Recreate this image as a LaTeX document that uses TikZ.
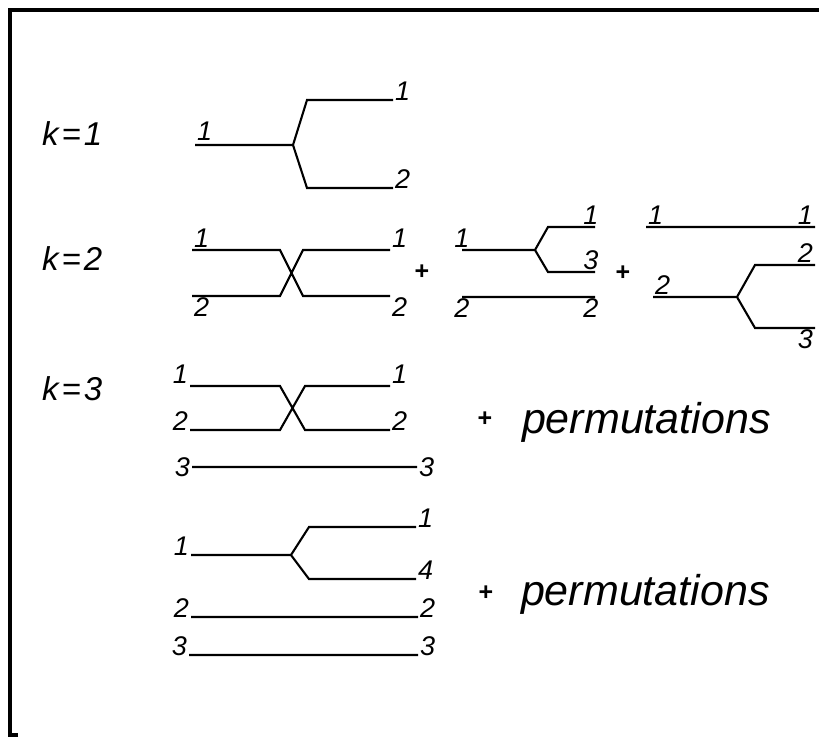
\documentclass[tikz,border=0pt]{standalone}
\usepackage{fontspec}
\setmainfont{Liberation Sans}
\usepackage{tikz}

\begin{document}
\begin{tikzpicture}[x=1pt, y=-1pt, line width=2.1pt,
  every node/.style={inner sep=1pt, font=\fontsize{27}{27}\selectfont\itshape},
  ktext/.style={font=\fontsize{33}{33}\selectfont\itshape},
  permtext/.style={font=\fontsize{43}{43}\selectfont\itshape},
  plus/.style={font=\fontsize{25}{25}\selectfont\bfseries}]
\useasboundingbox (0,0) rectangle (819,737);
\draw[line width=3.5pt] (18,735) -- (10,735) -- (10,10) -- (819,10);
% row labels
\node[ktext, anchor=base west] (K1) at (40,145) {k\kern3pt=\kern3pt1};
\node[ktext, anchor=base west] (K2) at (40,270) {k\kern3pt=\kern3pt2};
\node[ktext, anchor=base west] (K3) at (40,400) {k\kern3pt=\kern3pt3};
% k=1
\coordinate (A0) at (195,145); \coordinate (A1) at (293,145);
\coordinate (A2) at (307,100); \coordinate (A3) at (393,100);
\coordinate (A4) at (307,188); \coordinate (A5) at (393,188);
\draw (A0) -- (A1) -- (A2) -- (A3) (A1) -- (A4) -- (A5);
\node[anchor=south west] (a0) at (195,143) {1};
\node[anchor=base west] (a3) at (A3) {1};
\node[anchor=base west] (a5) at (A5) {2};
% k=2, exchange
\coordinate (B0) at (192,250); \coordinate (B1) at (280,250); \coordinate (B2) at (303,250); \coordinate (B3) at (390,250);
\coordinate (B4) at (192,296); \coordinate (B5) at (280,296); \coordinate (B6) at (303,296); \coordinate (B7) at (390,296);
\draw (B0) -- (B1) -- (B6) -- (B7) (B4) -- (B5) -- (B2) -- (B3);
\node[anchor=south west] (b0) at (B0) {1};
\node[anchor=north west] (b4) at (B4) {2};
\node[anchor=south west] (b3) at (B3) {1};
\node[anchor=north west] (b7) at (B7) {2};
\node[plus] (p1) at (422,272) {+};
% k=2, first line splits
\coordinate (C0) at (462,250); \coordinate (C1) at (535,250);
\coordinate (C2) at (548,227); \coordinate (C3) at (595,227);
\coordinate (C4) at (548,272); \coordinate (C5) at (595,272);
\coordinate (C6) at (462,297); \coordinate (C7) at (595,297);
\draw (C0) -- (C1) -- (C2) -- (C3) (C1) -- (C4) -- (C5) (C6) -- (C7);
\node[anchor=south] (c0) at (C0) {1};
\node[anchor=south] (c3) at (591,227) {1};
\node[anchor=south] (c5) at (591,272) {3};
\node[anchor=north] (c6) at (C6) {2};
\node[anchor=north] (c7) at (591,297) {2};
\node[plus] (p2) at (623,273) {+};
% k=2, second line splits
\coordinate (D0) at (646,227); \coordinate (D1) at (815,227);
\coordinate (D2) at (653,297); \coordinate (D3) at (737,297);
\coordinate (D4) at (755,265); \coordinate (D5) at (815,265);
\coordinate (D6) at (755,328); \coordinate (D7) at (815,328);
\draw (D0) -- (D1) (D2) -- (D3) -- (D4) -- (D5) (D3) -- (D6) -- (D7);
\node[anchor=south west] (d0) at (D0) {1};
\node[anchor=south east] (d1) at (D1) {1};
\node[anchor=south west] (d2) at (D2) {2};
\node[anchor=south east] (d5) at (D5) {2};
\node[anchor=north east] (d7) at (D7) {3};
% k=3, exchange
\coordinate (E0) at (190,386); \coordinate (E1) at (280,386); \coordinate (E2) at (305,386); \coordinate (E3) at (390,386);
\coordinate (E4) at (190,430); \coordinate (E5) at (280,430); \coordinate (E6) at (305,430); \coordinate (E7) at (390,430);
\coordinate (E8) at (192,467); \coordinate (E9) at (417,467);
\draw (E0) -- (E1) -- (E6) -- (E7) (E4) -- (E5) -- (E2) -- (E3) (E8) -- (E9);
\node[anchor=south east] (e0) at (E0) {1};
\node[anchor=base east] (e4) at (E4) {2};
\node[anchor=south west] (e3) at (E3) {1};
\node[anchor=base west] (e7) at (E7) {2};
\node[anchor=east] (e8) at (E8) {3};
\node[anchor=west] (e9) at (E9) {3};
\node[plus] (p3) at (485,419) {+};
\node[permtext, anchor=base west] (perm1) at (520,433) {permutations};
% k=3, one line splits
\coordinate (F0) at (191,555); \coordinate (F1) at (291,555);
\coordinate (F2) at (309,527); \coordinate (F3) at (416,527);
\coordinate (F4) at (309,579); \coordinate (F5) at (416,579);
\coordinate (F6) at (191,617); \coordinate (F7) at (418,617);
\coordinate (F8) at (189,655); \coordinate (F9) at (418,655);
\draw (F0) -- (F1) -- (F2) -- (F3) (F1) -- (F4) -- (F5) (F6) -- (F7) (F8) -- (F9);
\node[anchor=base east] (f0) at (F0) {1};
\node[anchor=base west] (f3) at (F3) {1};
\node[anchor=base west] (f5) at (F5) {4};
\node[anchor=base east] (f6) at (F6) {2};
\node[anchor=base west] (f7) at (F7) {2};
\node[anchor=base east] (f8) at (F8) {3};
\node[anchor=base west] (f9) at (F9) {3};
\node[plus] (p4) at (486,593) {+};
\node[permtext, anchor=base west] (perm2) at (519,605) {permutations};
\end{tikzpicture}
\end{document}
